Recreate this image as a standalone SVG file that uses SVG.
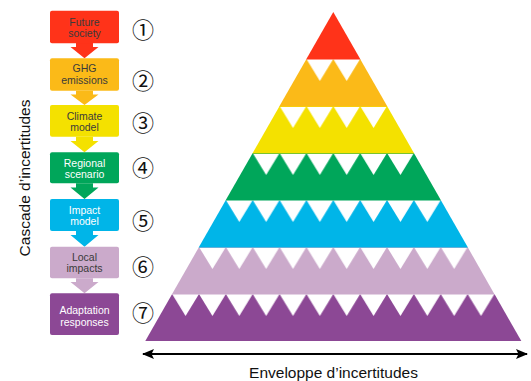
<svg xmlns="http://www.w3.org/2000/svg" width="531" height="381" viewBox="0 0 531 381">
  <style>
    .lbl { font-family: "Liberation Sans", Arial, sans-serif; font-size: 10.5px; text-anchor: middle; }
    .dk { fill: #3a3a3a; }
    .wt { fill: #ffffff; }
    .num { font-family: "Noto Sans CJK JP", "DejaVu Sans", sans-serif; font-size: 22px; text-anchor: middle; dominant-baseline: central; fill: #111111; }
    .axis { font-family: "Liberation Sans", Arial, sans-serif; font-size: 15.5px; fill: #111111; text-anchor: middle; }
  </style>
  <defs>
    <pattern id="notch" patternUnits="userSpaceOnUse" x="333.3" y="59" width="26.86" height="47">
      <polygon points="0,0 26.86,0 13.43,22" fill="#ffffff"/>
    </pattern>
    <marker id="ah" viewBox="0 0 12 10" refX="11" refY="5" markerWidth="12" markerHeight="10" markerUnits="userSpaceOnUse" orient="auto-start-reverse">
      <path d="M0,0 L12,5 L0,10 L2.5,5 Z" fill="#000000"/>
    </marker>
  </defs>
  <rect width="531" height="381" fill="#ffffff"/>

  <!-- Cascade flowchart -->
  <g id="connectors">
    <polygon points="76,43 93,43 93,47 98.5,47 84.5,58.3 70.5,47 76,47" fill="#ff3319"/>
    <polygon points="76,90.7 93,90.7 93,94.5 98.5,94.5 84.5,105 70.5,94.5 76,94.5" fill="#fbba18"/>
    <polygon points="76,136.7 93,136.7 93,141 98.5,141 84.5,152.3 70.5,141 76,141" fill="#f4e100"/>
    <polygon points="76,183.3 93,183.3 93,187.5 98.5,187.5 84.5,199 70.5,187.5 76,187.5" fill="#00a65a"/>
    <polygon points="76,231 93,231 93,235 98.5,235 84.5,246.7 70.5,235 76,235" fill="#00b5e8"/>
    <polygon points="76,278.3 93,278.3 93,282 98.5,282 84.5,293.3 70.5,282 76,282" fill="#cbaacb"/>
  </g>

  <g id="box1">
    <rect x="50" y="10.7" width="69" height="32.6" rx="2" fill="#ff3319"/>
    <text class="lbl dk" x="84.5" y="25.5">Future</text>
    <text class="lbl dk" x="84.5" y="36.5">society</text>
  </g>
  <g id="box2">
    <rect x="50" y="58.3" width="69" height="32.4" rx="2" fill="#fbba18"/>
    <text class="lbl dk" x="84.5" y="72">GHG</text>
    <text class="lbl dk" x="84.5" y="83.5">emissions</text>
  </g>
  <g id="box3">
    <rect x="50" y="105" width="69" height="31.7" rx="2" fill="#f4e100"/>
    <text class="lbl dk" x="84.5" y="119.7">Climate</text>
    <text class="lbl dk" x="84.5" y="131">model</text>
  </g>
  <g id="box4">
    <rect x="50" y="152.3" width="69" height="31" rx="2" fill="#00a65a"/>
    <text class="lbl wt" x="84.5" y="167">Regional</text>
    <text class="lbl wt" x="84.5" y="177.5">scenario</text>
  </g>
  <g id="box5">
    <rect x="50" y="199" width="69" height="32" rx="2" fill="#00b5e8"/>
    <text class="lbl wt" x="84.5" y="213.7">Impact</text>
    <text class="lbl wt" x="84.5" y="225">model</text>
  </g>
  <g id="box6">
    <rect x="50" y="246.7" width="69" height="31.6" rx="2" fill="#cbaacb"/>
    <text class="lbl dk" x="84.5" y="261">Local</text>
    <text class="lbl dk" x="84.5" y="272">impacts</text>
  </g>
  <g id="box7">
    <rect x="50" y="293.3" width="69" height="41.7" rx="2" fill="#8c4895"/>
    <text class="lbl wt" x="84.5" y="313.7">Adaptation</text>
    <text class="lbl wt" x="84.5" y="325.5">responses</text>
  </g>

  <g id="numbers">
    <text class="num" x="143" y="28.3">①</text>
    <text class="num" x="143" y="79">②</text>
    <text class="num" x="143" y="120.7">③</text>
    <text class="num" x="143" y="165.7">④</text>
    <text class="num" x="143" y="219.3">⑤</text>
    <text class="num" x="143" y="265">⑥</text>
    <text class="num" x="143" y="310.7">⑦</text>
  </g>

  <text class="axis" transform="translate(30,178) rotate(-90)" x="0" y="0">Cascade d’incertitudes</text>

  <!-- Pyramid (drawn bottom-up so each upper band covers the seam) -->
  <g id="pyramid">
    <g id="band7">
      <polygon points="172.14,294 494.46,294 521.32,341 145.28,341" fill="#8c4895"/>
      <rect x="172.14" y="294" width="322.32" height="22" fill="url(#notch)"/>
    </g>
    <g id="band6">
      <polygon points="199,247 467.6,247 494.63,294.6 171.8,294.6" fill="#cbaacb"/>
      <rect x="199" y="247" width="268.6" height="22" fill="url(#notch)"/>
    </g>
    <g id="band5">
      <polygon points="225.86,200 440.74,200 467.94,247.6 198.66,247.6" fill="#00b5e8"/>
      <rect x="225.86" y="200" width="214.88" height="22" fill="url(#notch)"/>
    </g>
    <g id="band4">
      <polygon points="252.72,153 413.88,153 441.08,200.6 225.52,200.6" fill="#00a65a"/>
      <rect x="252.72" y="153" width="161.16" height="22" fill="url(#notch)"/>
    </g>
    <g id="band3">
      <polygon points="279.58,106 387.02,106 414.22,153.6 252.38,153.6" fill="#f4e100"/>
      <rect x="279.58" y="106" width="107.44" height="22" fill="url(#notch)"/>
    </g>
    <g id="band2">
      <polygon points="306.44,59 360.16,59 387.36,106.6 279.24,106.6" fill="#fbba18"/>
      <rect x="306.44" y="59" width="53.72" height="22" fill="url(#notch)"/>
    </g>
    <polygon id="band1" points="333.3,12 360.5,59.6 306.1,59.6" fill="#ff3319"/>
  </g>

  <g id="envelope">
    <line x1="143" y1="354" x2="527" y2="354" stroke="#000000" stroke-width="2" marker-start="url(#ah)" marker-end="url(#ah)"/>
    <text class="axis" x="333.5" y="377.5">Enveloppe d’incertitudes</text>
  </g>
</svg>
